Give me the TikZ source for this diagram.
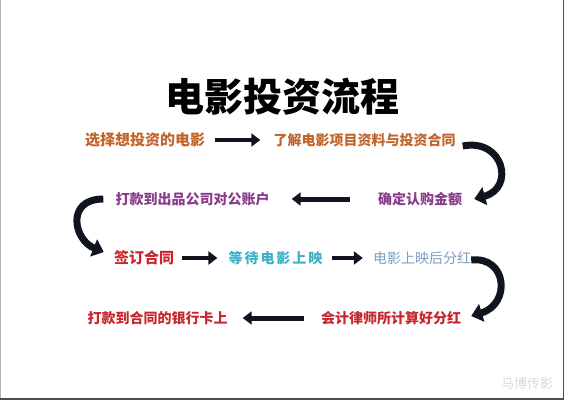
\documentclass[tikz,border=0pt]{standalone}
\usepackage{fontspec}
\newfontfamily\cjk{Noto Sans CJK SC}
\usetikzlibrary{arrows.meta}

\definecolor{stepbrown}{HTML}{C0642A}
\definecolor{steppurple}{HTML}{8B3B8B}
\definecolor{stepred}{HTML}{C8262C}
\definecolor{stepcyan}{HTML}{3BB0C9}
\definecolor{stepblue}{HTML}{7C9CC4}
\definecolor{arrowblack}{HTML}{10141E}

\tikzset{
  stepnode/.style={font=\cjk\bfseries\fontsize{14pt}{16pt}\selectfont, inner sep=0pt},
  flowarrow/.style={line width=4.5pt, color=arrowblack, -{Triangle[length=9pt,width=13pt]}},
  bendarrow/.style={line width=7pt, color=arrowblack, -{Triangle[length=11pt,width=18pt]}},
}

\begin{document}
\begin{tikzpicture}[x=1pt,y=1pt]
\useasboundingbox (0,0) rectangle (564,400);
% frame
\draw[black!30, line width=1pt] (0.5,0) -- (0.5,400);
\draw[black!70, line width=1.2pt] (563.4,0) -- (563.4,400);
\draw[black!70, line width=2pt] (0,1) -- (564,1);

% title
\node[font=\cjk\bfseries\fontsize{39pt}{40pt}\selectfont] (title) at (282,303) {电影投资流程};

% row 1
\node[stepnode, text=stepbrown, font=\cjk\bfseries\fontsize{15pt}{16pt}\selectfont] (choose) at (145,260) {选择想投资的电影};
\node[stepnode, text=stepbrown] (study) at (364.5,260) {了解电影项目资料与投资合同};
\draw[flowarrow, shorten <=10pt, shorten >=13pt] (choose) -- (study);

% row 2
\node[stepnode, text=steppurple] (amount) at (420,201) {确定认购金额};
\node[stepnode, text=steppurple] (transfer) at (192.5,201) {打款到出品公司对公账户};
\draw[bendarrow] ([xshift=7pt,yshift=-6pt]study.east) .. controls +(41,8) and +(41,11) .. ([xshift=12pt]amount.east);
\draw[flowarrow, line width=5pt, shorten <=28pt, shorten >=22pt] (amount) -- (transfer);

% row 3
\node[stepnode, text=stepred, font=\cjk\bfseries\fontsize{15pt}{16pt}\selectfont] (sign) at (144,142) {签订合同};
\node[stepnode, text=stepcyan, font=\cjk\bfseries\fontsize{14pt}{16pt}\addfontfeatures{LetterSpace=14}\selectfont] (wait) at (275.5,142) {等待电影上映};
\node[stepnode, text=stepblue, font=\cjk\fontsize{14pt}{16pt}\selectfont] (share) at (422,142) {电影上映后分红};
\draw[bendarrow] ([xshift=-12pt]transfer.west) .. controls +(-38,0) and +(-30,12) .. ([xshift=-10pt,yshift=6pt]sign.west);
\draw[flowarrow, shorten <=8pt, shorten >=11pt] (sign) -- (wait);
\draw[flowarrow, shorten <=9pt, shorten >=10pt] (wait) -- (share);

% row 4
\node[stepnode, text=stepred] (compute) at (391,82) {会计律师所计算好分红};
\node[stepnode, text=stepred] (payout) at (157.5,82) {打款到合同的银行卡上};
\draw[bendarrow] ([yshift=-2pt]share.east) .. controls +(36,4) and +(40,12) .. ([xshift=10pt,yshift=2pt]compute.east);
\draw[flowarrow, line width=5pt, shorten <=17pt, shorten >=15pt] (compute) -- (payout);

% watermark
\node[font=\cjk\fontsize{13pt}{14pt}\selectfont, text=black!15] (mark) at (527,16) {马博传影};
\end{tikzpicture}
\end{document}
